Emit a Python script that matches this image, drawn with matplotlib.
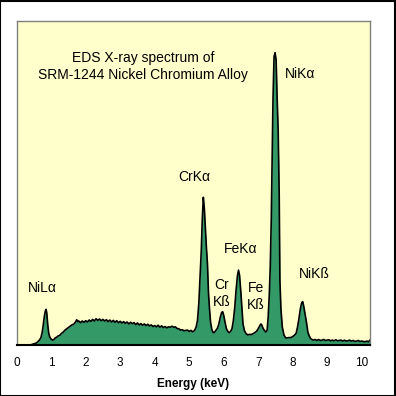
import matplotlib.pyplot as plt
from matplotlib.patches import Rectangle

plt.rcParams['font.family'] = ['Liberation Sans', 'DejaVu Sans']

# Spectrum: energy (keV) and counts (axis top = 1000)
energy = [
    0.00, 0.40, 0.45, 0.50, 0.55, 0.60, 0.65, 0.70, 0.74, 0.77, 0.80, 0.83, 0.85, 0.87, 0.90, 0.93, 0.96,
    1.00, 1.04, 1.08, 1.12, 1.16, 1.20, 1.25, 1.30, 1.35, 1.40, 1.45, 1.50, 1.55, 1.60, 1.65, 1.70, 1.74,
    1.77, 1.80, 1.85, 1.90, 1.95, 2.00, 2.05, 2.10, 2.15, 2.20, 2.25, 2.30, 2.35, 2.40, 2.45, 2.50, 2.55,
    2.60, 2.65, 2.70, 2.75, 2.80, 2.85, 2.90, 2.95, 3.00, 3.05, 3.10, 3.15, 3.20, 3.25, 3.30, 3.35, 3.40,
    3.45, 3.50, 3.55, 3.60, 3.65, 3.70, 3.75, 3.80, 3.85, 3.90, 3.95, 4.00, 4.05, 4.10, 4.15, 4.20, 4.25,
    4.30, 4.35, 4.40, 4.45, 4.50, 4.55, 4.60, 4.65, 4.70, 4.75, 4.80, 4.85, 4.90, 4.95, 5.00, 5.05, 5.10,
    5.15, 5.20, 5.24, 5.28, 5.32, 5.35, 5.38, 5.41, 5.44, 5.47, 5.50, 5.53, 5.56, 5.59, 5.62, 5.66, 5.70,
    5.74, 5.78, 5.82, 5.86, 5.90, 5.94, 5.97, 6.00, 6.04, 6.08, 6.12, 6.16, 6.20, 6.24, 6.28, 6.32, 6.36,
    6.40, 6.43, 6.46, 6.50, 6.53, 6.56, 6.60, 6.65, 6.70, 6.75, 6.80, 6.85, 6.90, 6.95, 7.00, 7.05, 7.08,
    7.11, 7.14, 7.18, 7.22, 7.26, 7.29, 7.32, 7.35, 7.38, 7.41, 7.43, 7.46, 7.49, 7.52, 7.55, 7.58, 7.61,
    7.63, 7.66, 7.70, 7.75, 7.80, 7.85, 7.90, 7.95, 8.00, 8.05, 8.10, 8.14, 8.18, 8.22, 8.26, 8.29, 8.32,
    8.36, 8.40, 8.44, 8.48, 8.52, 8.56, 8.60, 8.65, 8.70, 8.75, 8.80, 8.85, 8.90, 8.95, 9.00, 9.05, 9.10,
    9.15, 9.20, 9.25, 9.30, 9.35, 9.40, 9.45, 9.50, 9.55, 9.60, 9.65, 9.70, 9.75, 9.80, 9.85, 9.90, 9.95,
    10.00, 10.05, 10.10, 10.15, 10.20, 10.24,
]
counts = [
    0, 0, 2, 4, 5, 9, 14, 22, 40, 62, 88, 105, 110, 100, 62, 35, 24,
    18, 15, 17, 22, 24, 28, 30, 36, 40, 46, 50, 54, 58, 62, 64, 70, 78,
    72, 74, 69, 74, 70, 75, 71, 77, 73, 79, 74, 81, 76, 80, 75, 79, 74,
    78, 72, 77, 71, 76, 70, 75, 69, 73, 68, 72, 67, 71, 65, 70, 66, 69,
    63, 68, 62, 66, 61, 65, 60, 64, 59, 62, 57, 60, 56, 61, 55, 59, 54,
    57, 53, 56, 55, 58, 55, 56, 51, 50, 46, 47, 44, 45, 46, 42, 45, 41,
    44, 55, 75, 130, 220, 290, 390, 456, 420, 360, 300, 250, 160, 110, 70, 46, 38,
    40, 46, 52, 65, 85, 100, 103, 92, 70, 50, 42, 38, 42, 50, 75, 115, 170,
    215, 231, 215, 160, 110, 65, 45, 35, 31, 33, 32, 35, 38, 42, 50, 60, 65,
    60, 52, 45, 40, 46, 87, 150, 240, 390, 600, 760, 890, 902, 880, 760, 660, 460,
    200, 110, 55, 30, 22, 22, 23, 23, 26, 30, 36, 55, 80, 110, 130, 134, 120,
    95, 70, 40, 28, 20, 17, 15, 17, 14, 17, 14, 15, 17, 14, 15, 16, 13,
    15, 13, 16, 13, 14, 15, 12, 15, 12, 13, 15, 12, 14, 11, 12, 14, 11,
    12, 11, 10, 12, 10, 15,
]

# Peak labels: text, energy, height
peak_labels = ['NiLα', 'CrKα', 'Cr\nKß', 'FeKα', 'Fe\nKß', 'NiKα', 'NiKß']
label_x = [0.73, 5.14, 5.94, 6.50, 6.93, 8.21, 8.62]
label_y = [175, 520, 160, 295, 150, 835, 220]

tick_values = list(range(11))

fig = plt.figure(figsize=(3.96, 3.96), dpi=100)
ax = fig.add_axes([0.0422, 0.1288, 0.8920, 0.8182])
ax.set_facecolor('#FFFFCC')

ax.fill_between(energy, counts, color='#339966', linewidth=0)
ax.plot(energy, counts, color='black', linewidth=1.2)

ax.set_xlim(0, 10.24)
ax.set_ylim(0, 1000)
ax.set_yticks([])
ax.set_xticks(tick_values)
ax.tick_params(axis='x', length=0, pad=9, labelsize=8.5)
ax.set_xlabel('Energy (keV)', fontsize=8.5, fontweight='bold', labelpad=6)

for side in ['left', 'top', 'right']:
    ax.spines[side].set_color('#808080')
    ax.spines[side].set_linewidth(1)
ax.spines['bottom'].set_color('black')
ax.spines['bottom'].set_linewidth(1.5)

ax.text(3.66, 860, 'EDS X-ray spectrum of\nSRM-1244 Nickel Chromium Alloy',
        ha='center', va='center', fontsize=10, linespacing=1.3)

for txt, x, y in zip(peak_labels, label_x, label_y):
    ax.text(x, y, txt, ha='center', va='center', fontsize=10, linespacing=1.3)

# Outer frame
fig.patches.append(Rectangle((0.001, 0.001), 0.997, 0.997, transform=fig.transFigure,
                             fill=False, edgecolor='black', linewidth=1.5))

plt.savefig('out.png', dpi=100)
